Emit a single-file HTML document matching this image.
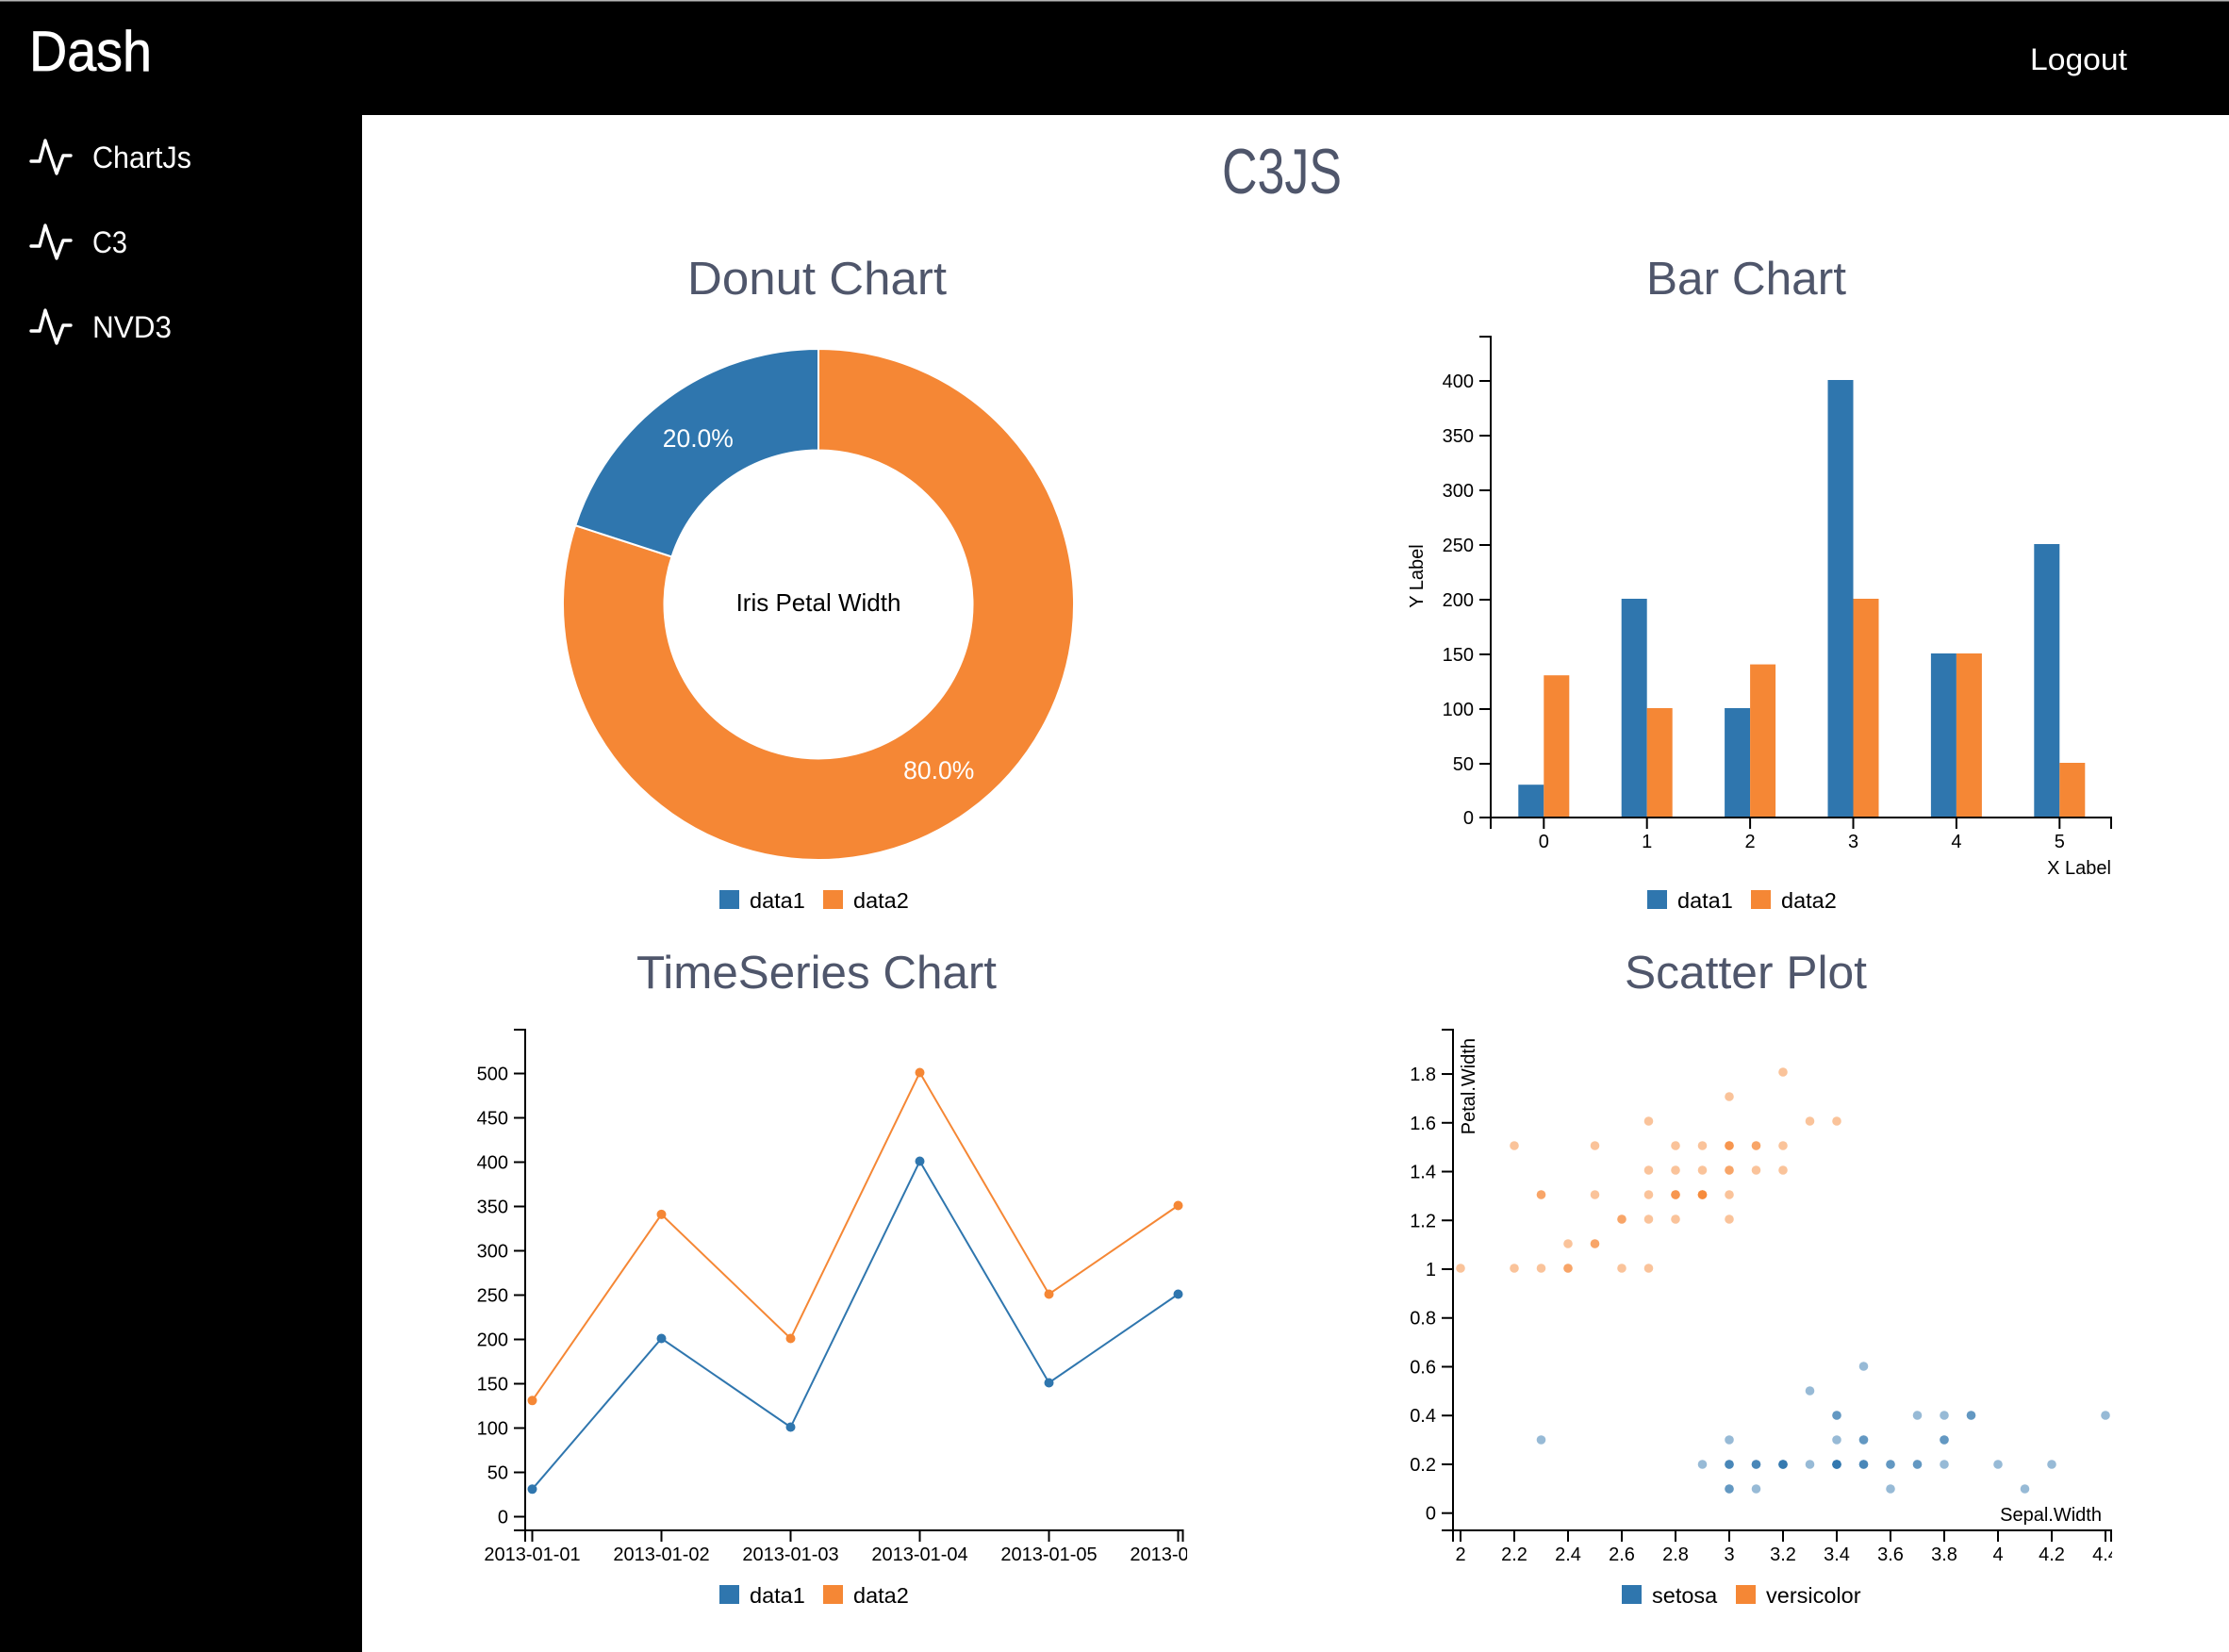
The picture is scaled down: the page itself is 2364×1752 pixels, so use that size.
<!DOCTYPE html>
<html lang="en">
<head>
<meta charset="utf-8">
<title>C3JS Dashboard</title>
<style>
html,body{margin:0;padding:0;background:#fff;}
body{width:2364px;height:1752px;overflow:hidden;position:relative;}
#page{position:absolute;left:0;top:0;display:block;}
text{font-family:"Liberation Sans",Arial,sans-serif;}
.tick{font-size:20px;fill:#000;}
.legend{font-size:23.5px;fill:#000;}
.heading{fill:#4f566b;}
</style>
</head>
<body>
<svg id="page" xmlns="http://www.w3.org/2000/svg" width="2364" height="1752" viewBox="0 0 2364 1752">
  <defs>
    <clipPath id="clip-time"><rect x="490" y="1080" width="769" height="600"/></clipPath>
    <clipPath id="clip-scatter"><rect x="1500" y="1080" width="740" height="600"/></clipPath>
  </defs>
  <rect x="0" y="0" width="2364" height="1752" fill="#fff"/>
  <rect x="0" y="0" width="2364" height="122" fill="#000"/>
  <rect x="0" y="0" width="2364" height="1.5" fill="#b5b5b5"/>
  <rect x="0" y="122" width="384" height="1630" fill="#000"/>

  <text x="31" y="75" font-size="60" fill="#fff" stroke="#fff" stroke-width="0.7" textLength="130" lengthAdjust="spacingAndGlyphs">Dash</text>
  <text x="2153" y="74" font-size="32" fill="#fff" textLength="103" lengthAdjust="spacingAndGlyphs">Logout</text>

  <g>
    <polyline points="33,171 42,171 48,149 60,184 67,165 75,165" fill="none" stroke="#fff" stroke-width="3.4" stroke-linecap="round" stroke-linejoin="round"/>
    <text x="98" y="178" font-size="32" fill="#fff" textLength="105" lengthAdjust="spacingAndGlyphs">ChartJs</text>
  </g>
  <g>
    <polyline points="33,261 42,261 48,239 60,274 67,255 75,255" fill="none" stroke="#fff" stroke-width="3.4" stroke-linecap="round" stroke-linejoin="round"/>
    <text x="98" y="268" font-size="32" fill="#fff" textLength="37" lengthAdjust="spacingAndGlyphs">C3</text>
  </g>
  <g>
    <polyline points="33,351 42,351 48,329 60,364 67,345 75,345" fill="none" stroke="#fff" stroke-width="3.4" stroke-linecap="round" stroke-linejoin="round"/>
    <text x="98" y="358" font-size="32" fill="#fff" textLength="84" lengthAdjust="spacingAndGlyphs">NVD3</text>
  </g>

  <text class="heading" x="1296" y="205" font-size="68" textLength="127" lengthAdjust="spacingAndGlyphs">C3JS</text>
  <text class="heading" x="729" y="312" font-size="49" textLength="275" lengthAdjust="spacingAndGlyphs">Donut Chart</text>
  <text class="heading" x="1746" y="312" font-size="49" textLength="212" lengthAdjust="spacingAndGlyphs">Bar Chart</text>
  <text class="heading" x="675" y="1048" font-size="49" textLength="382" lengthAdjust="spacingAndGlyphs">TimeSeries Chart</text>
  <text class="heading" x="1723" y="1048" font-size="49" textLength="257" lengthAdjust="spacingAndGlyphs">Scatter Plot</text>

  <g id="donut"></g>
  <g id="bars"></g>
  <g id="lines"></g>
  <g id="scatter"></g>
</svg>

<script>
// ---------- Chart data ----------
const donutLabels = ['data1', 'data2'];
const donutValues = [20, 80];

const barCategories = ['0', '1', '2', '3', '4', '5'];
const barData1 = [30, 200, 100, 400, 150, 250];
const barData2 = [130, 100, 140, 200, 150, 50];
const barYTicks = [0, 50, 100, 150, 200, 250, 300, 350, 400];

const timeCategories = ['2013-01-01', '2013-01-02', '2013-01-03', '2013-01-04', '2013-01-05', '2013-01-06'];
const timeData1 = [30, 200, 100, 400, 150, 250];
const timeData2 = [130, 340, 200, 500, 250, 350];
const timeYTicks = [0, 50, 100, 150, 200, 250, 300, 350, 400, 450, 500];

const setosaX = [3.5,3.0,3.2,3.1,3.6,3.9,3.4,3.4,2.9,3.1,3.7,3.4,3.0,3.0,4.0,4.4,3.9,3.5,3.8,3.8,3.4,3.7,3.6,3.3,3.4,3.0,3.4,3.5,3.4,3.2,3.1,3.4,4.1,4.2,3.1,3.2,3.5,3.6,3.0,3.4,3.5,2.3,3.2,3.5,3.8,3.0,3.8,3.2,3.7,3.3];
const setosaY = [0.2,0.2,0.2,0.2,0.2,0.4,0.3,0.2,0.2,0.1,0.2,0.2,0.1,0.1,0.2,0.4,0.4,0.3,0.3,0.3,0.2,0.4,0.2,0.5,0.2,0.2,0.4,0.2,0.2,0.2,0.2,0.4,0.1,0.2,0.2,0.2,0.2,0.1,0.2,0.2,0.3,0.3,0.2,0.6,0.4,0.3,0.2,0.2,0.2,0.2];
const versicolorX = [3.2,3.2,3.1,2.3,2.8,2.8,3.3,2.4,2.9,2.7,2.0,3.0,2.2,2.9,2.9,3.1,3.0,2.7,2.2,2.5,3.2,2.8,2.5,2.8,2.9,3.0,2.8,3.0,2.9,2.6,2.4,2.4,2.7,2.7,3.0,3.4,3.1,2.3,3.0,2.5,2.6,3.0,2.6,2.3,2.7,3.0,2.9,2.9,2.5,2.8];
const versicolorY = [1.4,1.5,1.5,1.3,1.5,1.3,1.6,1.0,1.3,1.4,1.0,1.5,1.0,1.4,1.3,1.4,1.5,1.0,1.5,1.1,1.8,1.3,1.5,1.2,1.3,1.4,1.4,1.7,1.5,1.0,1.1,1.0,1.2,1.6,1.5,1.6,1.5,1.3,1.3,1.3,1.2,1.4,1.2,1.0,1.3,1.2,1.3,1.3,1.1,1.3];
const scatterXTicks = ['2', '2.2', '2.4', '2.6', '2.8', '3', '3.2', '3.4', '3.6', '3.8', '4', '4.2', '4.4'];
const scatterYTicks = ['0', '0.2', '0.4', '0.6', '0.8', '1', '1.2', '1.4', '1.6', '1.8'];

// ---------- Helpers ----------
const BLUE = '#2f76ae';
const ORANGE = '#f58735';
const NS = 'http://www.w3.org/2000/svg';
function mk(tag, attrs, parent) {
  const n = document.createElementNS(NS, tag);
  for (const k in attrs) n.setAttribute(k, attrs[k]);
  parent.appendChild(n);
  return n;
}
function label(parent, str, x, y, cls, anchor) {
  const n = mk('text', {x: x, y: y, class: cls, 'text-anchor': anchor || 'start'}, parent);
  n.textContent = str;
  return n;
}

// Legend: two swatches plus two texts at given layout
function drawLegend(parent, names, swY, textY, s1, t1, s2, t2) {
  const a = mk('rect', {x: s1, y: swY, width: 21, height: 20, fill: BLUE}, parent);
  
  
  const b = label(parent, names[0], t1, textY, 'legend');
  
  
  const c = mk('rect', {x: s2, y: swY, width: 21, height: 20, fill: ORANGE}, parent);
  
  
  const d = label(parent, names[1], t2, textY, 'legend');
  
  
}

// Draws a c3-style y axis line + x axis line
function drawAxisFrame(parent, left, right, top, bottom) {
  const y = mk('path', {d: `M${left-12},${top}H${left}V${bottom}H${left-12}`, fill: 'none', stroke: '#000', 'stroke-width': 2}, parent);
  
  
  const x = mk('path', {d: `M${left},${bottom+12}V${bottom}H${right}V${bottom+12}`, fill: 'none', stroke: '#000', 'stroke-width': 2}, parent);
  
  
}
function drawYTick(parent, left, py, text) {
  const t = mk('line', {x1: left-12, x2: left, y1: py, y2: py, stroke: '#000', 'stroke-width': 2}, parent);
  
  
  const l = label(parent, text, left-18, py+7, 'tick', 'end');
  
  
}
function drawXTick(parent, px, bottom, text, baseline) {
  const t = mk('line', {x1: px, x2: px, y1: bottom, y2: bottom+12, stroke: '#000', 'stroke-width': 2}, parent);
  
  
  const l = label(parent, text, px, baseline, 'tick', 'middle');
  
  
}

// ---------- Donut ----------
(function () {
  const g = document.getElementById('donut');
  const cx = 868, cy = 641, R = 271, r = 163.5;
  const total = donutValues.reduce((a, b) => a + b, 0);
  const colors = [BLUE, ORANGE];
  // data2 runs clockwise from 12 o'clock; data1 fills the remainder up to 12 o'clock
  const order = [1, 0];
  let start = 0;
  order.forEach(function (idx) {
    const frac = donutValues[idx] / total;
    const end = start + frac * 2 * Math.PI;
    const pt = (rad, a) => [cx + rad * Math.sin(a), cy - rad * Math.cos(a)];
    const large = frac > 0.5 ? 1 : 0;
    const p1 = pt(R, start), p2 = pt(R, end), p3 = pt(r, end), p4 = pt(r, start);
    const slice = mk('path', {
      d: `M${p1[0]},${p1[1]}A${R},${R} 0 ${large} 1 ${p2[0]},${p2[1]}L${p3[0]},${p3[1]}A${r},${r} 0 ${large} 0 ${p4[0]},${p4[1]}Z`,
      fill: colors[idx], stroke: '#fff', 'stroke-width': 2
    }, g);
    
    
    const mid = (start + end) / 2;
    const c = pt((R + r) / 2, mid);
    const pct = label(g, (frac * 100).toFixed(1) + '%', c[0], c[1] + 9, 'legend', 'middle');
    pct.setAttribute('fill', '#fff');
    pct.style.fill = '#fff';
    pct.style.fontSize = '26.5px';
    
    
    start = end;
  });
  const center = label(g, 'Iris Petal Width', cx, cy + 7, 'legend', 'middle');
  center.style.fontSize = '26px';
  
  
  drawLegend(g, donutLabels, 944, 963, 763, 795, 873, 905);
})();

// ---------- Bar chart ----------
const barXScale = i => 1637.3 + 109.4 * i;
const barYScale = v => 867 - 1.16 * v;
(function () {
  const g = document.getElementById('bars');
  const w = 27;
  barCategories.forEach(function (cat, i) {
    const h1 = mk('rect', {x: barXScale(i) - w, y: barYScale(barData1[i]), width: w, height: barYScale(0) - barYScale(barData1[i]), fill: BLUE}, g);
    
    
    const h2 = mk('rect', {x: barXScale(i), y: barYScale(barData2[i]), width: w, height: barYScale(0) - barYScale(barData2[i]), fill: ORANGE}, g);
    
    
  });
  drawAxisFrame(g, 1581, 2239, 357, 867);
  barYTicks.forEach(v => drawYTick(g, 1581, barYScale(v) + (v ? 1 : 0), String(v)));
  barCategories.forEach((c, i) => drawXTick(g, barXScale(i), 867, c, 899));
  const xt = label(g, 'X Label', 2239, 927, 'tick', 'end');
  
  
  const yt = label(g, 'Y Label', 0, 0, 'tick', 'middle');
  yt.setAttribute('transform', 'translate(1509,611) rotate(-90)');
  
  
  drawLegend(g, donutLabels, 944, 963, 1747, 1779, 1857, 1889);
})();

// ---------- Time series ----------
const timeXScale = i => 564.5 + 137 * i;
const timeYScale = v => 1607.5 - 0.94 * v;
(function () {
  const g = document.getElementById('lines');
  [[timeData2, ORANGE, 'data2'], [timeData1, BLUE, 'data1']].forEach(function (s) {
    const pts = s[0].map((v, i) => timeXScale(i) + ',' + timeYScale(v)).join(' ');
    const line = mk('polyline', {points: pts, fill: 'none', stroke: s[1], 'stroke-width': 2}, g);
    
    
    s[0].forEach(function (v, i) {
      const c = mk('circle', {cx: timeXScale(i), cy: timeYScale(v), r: 5, fill: s[1]}, g);
      
      
    });
  });
  drawAxisFrame(g, 557, 1254.5, 1092, 1623);
  timeYTicks.forEach(v => drawYTick(g, 557, timeYScale(v) + 1, String(v)));
  const xg = mk('g', {'clip-path': 'url(#clip-time)'}, g);
  
  
  timeCategories.forEach((c, i) => drawXTick(xg, timeXScale(i), 1623, c, 1655));
  drawLegend(g, donutLabels, 1681, 1700, 763, 795, 873, 905);
})();

// ---------- Scatter ----------
const scatterXScale = v => 1549 + 285 * (v - 2);
const scatterYScale = v => 1605 - 260 * v;
const scatterYTickPos = v => 1604.7 - 258.7 * v;
(function () {
  const g = document.getElementById('scatter');
  setosaX.forEach(function (x, i) {
    const c = mk('circle', {cx: scatterXScale(x), cy: scatterYScale(setosaY[i]), r: 4.8, fill: BLUE, opacity: 0.5}, g);
    
    
  });
  versicolorX.forEach(function (x, i) {
    const c = mk('circle', {cx: scatterXScale(x), cy: scatterYScale(versicolorY[i]), r: 4.8, fill: ORANGE, opacity: 0.5}, g);
    
    
  });
  drawAxisFrame(g, 1541, 2239, 1092, 1623);
  scatterYTicks.forEach(t => drawYTick(g, 1541, scatterYTickPos(parseFloat(t)), t));
  const xg = mk('g', {'clip-path': 'url(#clip-scatter)'}, g);
  
  
  scatterXTicks.forEach(t => drawXTick(xg, scatterXScale(parseFloat(t)), 1623, t, 1655));
  const xt = label(g, 'Sepal.Width', 2229, 1613, 'tick', 'end');
  
  
  const yt = label(g, 'Petal.Width', 0, 0, 'tick', 'end');
  yt.setAttribute('transform', 'translate(1564,1101) rotate(-90)');
  
  
  drawLegend(g, ['setosa', 'versicolor'], 1681, 1700, 1720, 1752, 1841, 1873);
})();
</script>
</body>
</html>
